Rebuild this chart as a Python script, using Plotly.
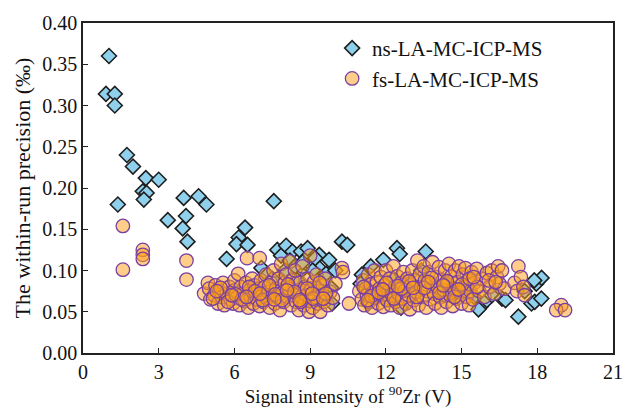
import plotly.graph_objects as go

# ns-LA-MC-ICP-MS (diamonds)
ns_x = [1.03, 0.91, 1.26, 1.26, 1.74, 1.98, 2.49, 3.00, 2.37, 2.52, 2.41, 1.38, 3.99, 4.58, 4.89, 7.56,
        3.36, 4.08, 3.95, 4.14, 5.69, 6.17, 6.42, 6.08, 6.52,
        7.07, 7.30, 7.70, 7.85, 8.05, 8.30, 8.20, 8.64, 8.84, 8.90, 9.00, 9.36, 9.36, 9.63, 9.75, 9.83,
        9.87, 9.60, 9.45, 9.10, 8.60, 8.50, 8.00, 7.50, 8.40, 8.70, 9.20, 10.00,
        10.26, 10.47, 11.05, 11.00, 11.40, 11.90, 11.70, 12.00, 12.20, 12.44, 12.55, 12.30, 12.80, 13.10,
        13.58, 13.40, 13.90, 14.30, 14.70, 15.20, 15.50, 15.75, 15.67, 16.00, 16.20, 16.60, 16.74,
        17.25, 17.77, 17.90, 17.96, 18.17, 17.88, 18.16, 17.50, 11.30, 12.60]
ns_y = [0.360, 0.314, 0.314, 0.300, 0.240, 0.226, 0.212, 0.210, 0.196, 0.194, 0.186, 0.180, 0.188, 0.190, 0.180, 0.184,
        0.161, 0.166, 0.151, 0.135, 0.114, 0.140, 0.152, 0.132, 0.131,
        0.103, 0.095, 0.125, 0.118, 0.130, 0.123, 0.112, 0.123, 0.115, 0.127, 0.108, 0.119, 0.103, 0.096, 0.113, 0.079,
        0.060, 0.070, 0.085, 0.100, 0.098, 0.088, 0.100, 0.090, 0.105, 0.110, 0.115, 0.100,
        0.135, 0.131, 0.095, 0.084, 0.105, 0.113, 0.070, 0.065, 0.075, 0.127, 0.120, 0.090, 0.080, 0.070,
        0.123, 0.100, 0.082, 0.070, 0.075, 0.080, 0.068, 0.056, 0.053, 0.064, 0.070, 0.066, 0.064,
        0.044, 0.060, 0.062, 0.084, 0.091, 0.088, 0.066, 0.075, 0.060, 0.055]

# fs-LA-MC-ICP-MS (circles)
fs_x = [1.58, 1.58, 2.37, 2.37, 2.37, 4.10, 4.10,
        4.80, 4.95, 5.00, 5.05, 5.20, 5.25, 5.35, 5.40, 5.50, 5.55, 5.60, 5.70, 5.80, 5.85, 5.95, 6.00, 6.00,
        6.10, 6.15, 6.20, 6.25, 6.35, 6.40, 6.45, 6.50, 6.55, 6.60, 6.65, 6.70, 6.75, 6.80, 6.85, 6.90, 6.95, 7.00, 7.00,
        7.05, 7.10, 7.15, 7.20, 7.25, 7.30, 7.35, 7.40, 7.45, 7.50, 7.55, 7.60, 7.65, 7.70, 7.75, 7.80, 7.85, 7.90, 7.95, 8.00,
        8.05, 8.10, 8.15, 8.20, 8.25, 8.30, 8.35, 8.40, 8.45, 8.50, 8.55, 8.60, 8.65, 8.70, 8.75, 8.80, 8.85, 8.90, 8.95, 9.00, 9.00,
        9.05, 9.10, 9.15, 9.20, 9.25, 9.30, 9.35, 9.40, 9.45, 9.50, 9.55, 9.60, 9.70, 9.80, 9.90, 10.00,
        10.26, 10.30, 10.54,
        10.95, 11.05, 11.10, 11.15, 11.20, 11.25, 11.30, 11.35, 11.40, 11.45, 11.50, 11.55, 11.60, 11.65, 11.70, 11.75,
        11.80, 11.85, 11.90, 11.95, 12.00, 12.05, 12.10, 12.15, 12.20, 12.25, 12.30, 12.35, 12.40, 12.45, 12.50, 12.55,
        12.60, 12.65, 12.70, 12.75, 12.80, 12.85, 12.90, 12.95, 13.00,
        13.05, 13.10, 13.15, 13.20, 13.25, 13.30, 13.35, 13.40, 13.45, 13.50, 13.55, 13.60, 13.65, 13.70, 13.75, 13.80,
        13.85, 13.90, 13.95, 14.00, 14.05, 14.10, 14.15, 14.20, 14.25, 14.30, 14.35, 14.40, 14.45, 14.50, 14.55, 14.60,
        14.65, 14.70, 14.75, 14.80, 14.85, 14.90, 14.95, 15.00, 15.05, 15.10, 15.15, 15.20, 15.25, 15.30, 15.35, 15.40,
        15.45, 15.50,
        15.60, 15.70, 15.80, 15.90, 16.00, 16.10, 16.20, 16.30, 16.40, 16.45, 16.50, 16.60, 16.70,
        17.10, 17.25, 17.20, 17.35, 17.45, 17.50,
        18.95, 18.75, 19.10,
        # second pass over the dense band
        5.15, 5.45, 5.75, 6.05, 6.30, 6.58, 6.82, 7.12, 7.38, 7.62, 7.88, 8.12, 8.38, 8.62, 8.88, 9.12, 9.38, 9.62,
        5.30, 5.90, 6.48, 7.02, 7.58, 8.08, 8.58, 9.08, 9.52,
        11.12, 11.42, 11.72, 12.02, 12.32, 12.62, 12.92, 13.22, 13.52, 13.82, 14.12, 14.42, 14.72, 15.02, 15.32, 15.62,
        11.28, 11.88, 12.48, 13.08, 13.68, 14.28, 14.88, 15.48, 16.08, 16.35]
fs_y = [0.154, 0.101, 0.125, 0.119, 0.114, 0.112, 0.089,
        0.072, 0.085, 0.078, 0.065, 0.070, 0.082, 0.060, 0.075, 0.068, 0.085, 0.058, 0.072, 0.080, 0.065, 0.060, 0.076, 0.088,
        0.067, 0.096, 0.058, 0.080, 0.072, 0.063, 0.085, 0.115, 0.055, 0.076, 0.068, 0.090, 0.060, 0.082, 0.072, 0.065, 0.078, 0.115, 0.057,
        0.088, 0.070, 0.062, 0.080, 0.095, 0.066, 0.074, 0.055, 0.085, 0.070, 0.100, 0.060, 0.078, 0.068, 0.090, 0.052, 0.108, 0.073, 0.062, 0.085,
        0.095, 0.068, 0.078, 0.111, 0.058, 0.088, 0.070, 0.100, 0.062, 0.076, 0.052, 0.085, 0.068, 0.105, 0.058, 0.080, 0.070, 0.090, 0.050, 0.118, 0.063,
        0.078, 0.055, 0.086, 0.068, 0.095, 0.060, 0.075, 0.050, 0.070, 0.082, 0.062, 0.090, 0.058, 0.074, 0.067, 0.084,
        0.103, 0.098, 0.060,
        0.075, 0.065, 0.088, 0.058, 0.078, 0.070, 0.095, 0.062, 0.083, 0.055, 0.074, 0.100, 0.067, 0.086, 0.060, 0.078,
        0.092, 0.070, 0.056, 0.082, 0.100, 0.064, 0.075, 0.090, 0.058, 0.070, 0.105, 0.080, 0.062, 0.093, 0.072, 0.055,
        0.085, 0.066, 0.098, 0.076, 0.060, 0.090, 0.070, 0.053, 0.082,
        0.100, 0.064, 0.088, 0.074, 0.112, 0.058, 0.095, 0.080, 0.068, 0.105, 0.088, 0.055, 0.075, 0.098, 0.065, 0.085,
        0.110, 0.072, 0.060, 0.092, 0.080, 0.104, 0.068, 0.055, 0.088, 0.076, 0.100, 0.062, 0.083, 0.108, 0.070, 0.093,
        0.057, 0.078, 0.100, 0.066, 0.086, 0.105, 0.073, 0.060, 0.095, 0.080, 0.103, 0.068, 0.088, 0.058, 0.075, 0.098,
        0.065, 0.085,
        0.102, 0.075, 0.090, 0.068, 0.097, 0.080, 0.100, 0.072, 0.092, 0.105, 0.084, 0.100, 0.078,
        0.085, 0.105, 0.075, 0.092, 0.080, 0.070,
        0.058, 0.052, 0.052,
        0.066, 0.079, 0.062, 0.071, 0.065, 0.080, 0.075, 0.064, 0.082, 0.071, 0.064, 0.083, 0.074, 0.062, 0.078, 0.066, 0.085, 0.072,
        0.075, 0.070, 0.068, 0.072, 0.065, 0.076, 0.064, 0.072, 0.066,
        0.080, 0.069, 0.073, 0.085, 0.066, 0.078, 0.087, 0.068, 0.079, 0.091, 0.073, 0.087, 0.068, 0.083, 0.090, 0.080,
        0.064, 0.077, 0.081, 0.079, 0.086, 0.082, 0.077, 0.092, 0.088, 0.086]

x_ticks = [0, 3, 6, 9, 12, 15, 18, 21]
y_ticks = [0.00, 0.05, 0.10, 0.15, 0.20, 0.25, 0.30, 0.35, 0.40]

font = "Liberation Serif, Times New Roman, serif"

fig = go.Figure()
fig.add_trace(go.Scatter(
    x=ns_x, y=ns_y, mode="markers", name="ns-LA-MC-ICP-MS",
    marker=dict(symbol="diamond", size=11.5, color="#8fd0ec",
                line=dict(color="#1e1e1e", width=1.6)),
))
fig.add_trace(go.Scatter(
    x=fs_x, y=fs_y, mode="markers", name="fs-LA-MC-ICP-MS",
    marker=dict(symbol="circle", size=13.5, color="rgba(255,160,20,0.5)",
                line=dict(color="#7a3fa3", width=1.3)),
))

axis_common = dict(
    showline=True, linecolor="#222", linewidth=1.5, mirror=True,
    ticks="inside", ticklen=5, tickwidth=1.3, tickcolor="#222",
    showgrid=False, zeroline=False,
    tickfont=dict(family=font, size=20, color="#111"),
)
fig.update_xaxes(
    range=[0, 21], tickvals=x_ticks, ticktext=[str(v) for v in x_ticks],
    title=dict(text="Signal intensity of <sup>90</sup>Zr (V)", font=dict(family=font, size=19, color="#111"),
               standoff=6),
    **axis_common,
)
fig.update_yaxes(
    range=[0, 0.40], tickvals=y_ticks, ticktext=[f"{v:.2f}" for v in y_ticks],
    title=dict(text="The within-run precision (‰)", font=dict(family=font, size=22, color="#111"),
               standoff=6),
    **axis_common,
)
fig.update_layout(
    width=635, height=414,
    margin=dict(l=83, r=20, t=16, b=60),
    plot_bgcolor="white", paper_bgcolor="white",
    font=dict(family=font, size=19, color="#111"),
    legend=dict(x=0.47, y=0.985, xanchor="left", yanchor="top",
                bgcolor="rgba(0,0,0,0)", font=dict(family=font, size=21),
                itemwidth=30, tracegroupgap=0),
    showlegend=True,
)

fig.write_html("out.html", config={"displayModeBar": False},
               post_script="document.body.style.margin='0px';")
